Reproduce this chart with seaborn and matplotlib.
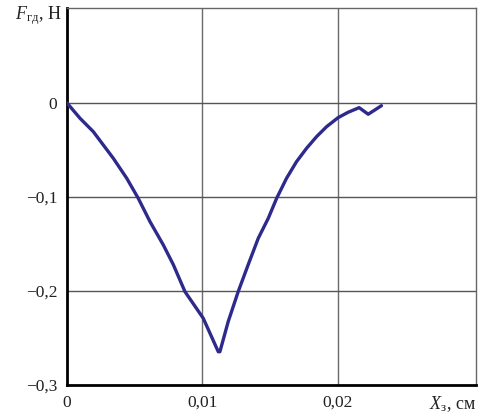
import matplotlib
matplotlib.use("Agg")
import matplotlib.pyplot as plt
import seaborn as sns
import pandas as pd

# Перемещение X_з (см) и сила F_гд (Н)
x_cm = [0.0, 0.00096, 0.00194, 0.00268, 0.00342, 0.00441, 0.00526, 0.00613,
        0.00711, 0.00785, 0.00871, 0.01006, 0.01117, 0.01129, 0.0119,
        0.01264, 0.01338, 0.01412, 0.01486, 0.01548, 0.01621, 0.01695,
        0.01769, 0.01843, 0.01917, 0.02002, 0.02076, 0.02157, 0.02224,
        0.02322]
f_n = [0.0, -0.0163, -0.0305, -0.0447, -0.0589, -0.0801, -0.1014, -0.1263,
       -0.151, -0.172, -0.2007, -0.229, -0.2646, -0.2646, -0.2327,
       -0.2007, -0.172, -0.144, -0.1227, -0.1014, -0.0801, -0.0624,
       -0.0482, -0.0358, -0.0252, -0.0156, -0.0099, -0.005, -0.012,
       -0.0029]

x_ticks = [0, 0.01, 0.02]
x_tick_labels = ["0", "0,01", "0,02"]
y_ticks = [0, -0.1, -0.2, -0.3]
y_tick_labels = ["0", "\u22120,1", "\u22120,2", "\u22120,3"]

sns.set_style("white")
plt.rcParams['font.family'] = ['Liberation Serif', 'DejaVu Serif']
plt.rcParams['mathtext.fontset'] = 'custom'
plt.rcParams['mathtext.rm'] = 'Liberation Serif'
plt.rcParams['mathtext.it'] = 'Liberation Serif:italic'

df = pd.DataFrame({"x": x_cm, "f": f_n})

fig = plt.figure(figsize=(4.9, 4.16), dpi=100)
ax = fig.add_axes([67 / 490, 1 - 385 / 416, 409 / 490, 377 / 416])

sns.lineplot(data=df, x="x", y="f", sort=False, ax=ax, color="#2e2a8c",
             linewidth=2.4, zorder=3)

ax.set_xlim(0, 0.0302)
ax.set_ylim(-0.3, 0.101)

# сетка только на внутренних делениях
for xv in x_ticks[1:]:
    ax.axvline(xv, color="#6a6a6a", linewidth=1.0, zorder=1)
for yv in y_ticks[:-1]:
    ax.axhline(yv, color="#555555", linewidth=1.0, zorder=1)

ax.set_xticks(x_ticks)
ax.set_xticklabels(x_tick_labels)
ax.set_yticks(y_ticks)
ax.set_yticklabels(y_tick_labels)
ax.tick_params(length=0, labelsize=12.5, colors="#222222", pad=7)
ax.set_xlabel("")
ax.set_ylabel("")

ax.spines["left"].set_linewidth(2.0)
ax.spines["bottom"].set_linewidth(2.0)
ax.spines["left"].set_color("black")
ax.spines["bottom"].set_color("black")
ax.spines["top"].set_linewidth(1.0)
ax.spines["right"].set_linewidth(1.0)
ax.spines["top"].set_color("#666666")
ax.spines["right"].set_color("#666666")

fig.text(62 / 490, 1 - 16 / 416, r"$F_{\mathrm{гд}}$, Н", ha="right", va="center",
         fontsize=13, color="#222222")
fig.text(476 / 490, 1 - 404 / 416, r"$X_{\mathrm{з}}$, см", ha="right", va="center",
         fontsize=13, color="#222222")

fig.savefig("out.png", dpi=100)
